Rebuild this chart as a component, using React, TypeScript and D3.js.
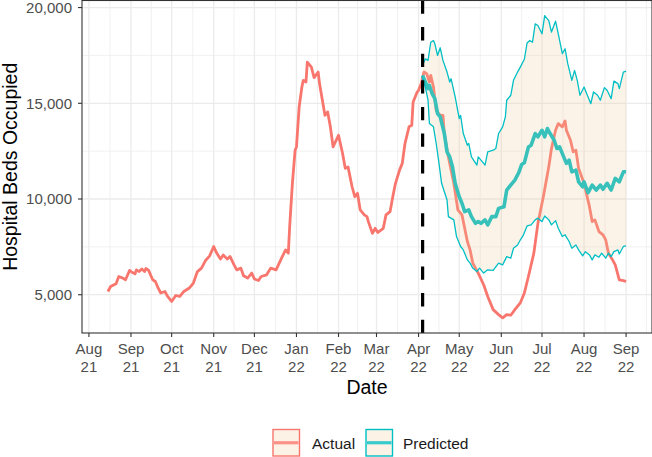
import React from 'react';
import * as d3 from 'd3';

// Observed hospital beds occupied (daily series, sampled)
const actualDates = [
  '2021-08-15', '2021-08-17', '2021-08-21', '2021-08-23', '2021-08-26', '2021-08-28', '2021-08-31',
  '2021-09-02', '2021-09-04', '2021-09-05', '2021-09-07', '2021-09-09', '2021-09-11', '2021-09-12',
  '2021-09-14', '2021-09-17', '2021-09-19', '2021-09-21', '2021-09-23', '2021-09-26', '2021-09-28',
  '2021-10-01', '2021-10-04', '2021-10-07', '2021-10-10', '2021-10-14', '2021-10-17', '2021-10-20',
  '2021-10-23', '2021-10-26', '2021-10-29', '2021-11-01', '2021-11-03', '2021-11-06', '2021-11-08',
  '2021-11-11', '2021-11-13', '2021-11-16', '2021-11-18', '2021-11-21', '2021-11-23', '2021-11-26',
  '2021-11-29', '2021-12-01', '2021-12-04', '2021-12-06', '2021-12-10', '2021-12-13', '2021-12-17',
  '2021-12-21', '2021-12-24', '2021-12-26', '2021-12-27', '2021-12-29', '2021-12-31', '2022-01-01',
  '2022-01-03', '2022-01-05', '2022-01-06', '2022-01-08', '2022-01-09', '2022-01-12', '2022-01-14',
  '2022-01-17', '2022-01-18', '2022-01-22', '2022-01-24', '2022-01-26', '2022-01-28', '2022-02-01',
  '2022-02-04', '2022-02-06', '2022-02-08', '2022-02-11', '2022-02-13', '2022-02-15', '2022-02-17',
  '2022-02-20', '2022-02-22', '2022-02-23', '2022-02-26', '2022-02-28', '2022-03-02', '2022-03-06',
  '2022-03-08', '2022-03-11', '2022-03-13', '2022-03-15', '2022-03-18', '2022-03-20', '2022-03-22',
  '2022-03-25', '2022-03-27', '2022-03-28', '2022-03-31', '2022-04-01', '2022-04-03', '2022-04-05',
  '2022-04-07', '2022-04-09', '2022-04-10', '2022-04-12', '2022-04-14', '2022-04-17', '2022-04-19',
  '2022-04-20', '2022-04-23', '2022-04-25', '2022-04-27', '2022-04-30', '2022-05-03', '2022-05-07',
  '2022-05-09', '2022-05-11', '2022-05-15', '2022-05-19', '2022-05-22', '2022-05-26', '2022-05-30',
  '2022-06-02', '2022-06-05', '2022-06-08', '2022-06-11', '2022-06-15', '2022-06-18', '2022-06-21',
  '2022-06-25', '2022-06-28', '2022-07-02', '2022-07-06', '2022-07-08', '2022-07-11', '2022-07-13',
  '2022-07-16', '2022-07-18', '2022-07-19', '2022-07-22', '2022-07-24', '2022-07-26', '2022-07-28',
  '2022-08-01', '2022-08-05', '2022-08-07', '2022-08-09', '2022-08-12', '2022-08-15', '2022-08-17',
  '2022-08-19', '2022-08-22', '2022-08-24', '2022-08-25', '2022-08-27', '2022-08-30', '2022-09-01',
];
const actualBeds = [
  5170, 5430, 5570, 5950, 5870, 5780, 6270,
  6160, 6090, 6300, 6210, 6340, 6210, 6370,
  6270, 5780, 5690, 5350, 5090, 5170, 4910,
  4650, 4960, 4910, 5170, 5350, 5610, 6210,
  6390, 6790, 7030, 7520, 7200, 6860, 7080,
  6860, 7000, 6560, 6300, 6390, 5990, 5870,
  6130, 5820, 5740, 5950, 6040, 6390, 6300,
  6910, 7340, 7170, 8560, 10820, 12550, 12720,
  14810, 15850, 16200, 16110, 17150, 16890, 16340,
  16630, 16030, 14370, 14550, 13770, 12720, 13330,
  12380, 11600, 11680, 10640, 10120, 10300, 9430,
  9170, 9080, 8820, 8210, 8470, 8250, 8470,
  9170, 9340, 10120, 10820, 11510, 11860, 12900,
  13770, 13850, 15070, 15590, 15680, 16030, 16630,
  16550, 16110, 16460, 15850, 14630, 14370, 14370,
  13420, 12200, 11510, 10820, 9430, 9170, 7780,
  7340, 6650, 6130, 5520, 4910, 4220, 3960,
  3790, 3960, 3930, 4220, 4570, 5090, 5950,
  7170, 8730, 10120, 11680, 12630, 13590, 13940,
  13770, 14080, 13590, 13070, 12460, 12550, 11600,
  10820, 9600, 8820, 8910, 8300, 8130, 7860,
  7170, 6820, 6560, 6300, 5780, 5740, 5690,
];

// Forecast: central estimate
const centreDates = [
  '2022-04-04', '2022-04-06', '2022-04-08', '2022-04-09', '2022-04-11', '2022-04-13', '2022-04-15',
  '2022-04-17', '2022-04-20', '2022-04-22', '2022-04-24', '2022-04-26', '2022-04-28', '2022-05-01',
  '2022-05-03', '2022-05-05', '2022-05-08', '2022-05-10', '2022-05-13', '2022-05-15', '2022-05-17',
  '2022-05-20', '2022-05-22', '2022-05-25', '2022-05-28', '2022-05-30', '2022-06-03', '2022-06-05',
  '2022-06-09', '2022-06-11', '2022-06-14', '2022-06-16', '2022-06-18', '2022-06-21', '2022-06-23',
  '2022-06-26', '2022-06-28', '2022-07-01', '2022-07-03', '2022-07-05', '2022-07-07', '2022-07-10',
  '2022-07-12', '2022-07-14', '2022-07-17', '2022-07-19', '2022-07-21', '2022-07-23', '2022-07-26',
  '2022-07-28', '2022-07-31', '2022-08-01', '2022-08-04', '2022-08-07', '2022-08-10', '2022-08-13',
  '2022-08-15', '2022-08-18', '2022-08-21', '2022-08-24', '2022-08-27', '2022-08-30', '2022-09-01',
];
const centreBeds = [
  16460, 16110, 15770, 15940, 15500, 15240, 14460,
  14290, 13420, 12460, 12200, 11680, 10820, 10120,
  9780, 9340, 9430, 9080, 8730, 8820, 8730,
  8910, 8650, 9080, 9080, 9510, 9600, 10470,
  10820, 10990, 11400, 11800, 11890, 12720, 12810,
  13420, 13250, 13590, 13250, 13680, 13420, 13070,
  12640, 12720, 12200, 11860, 12030, 11420, 11510,
  10900, 10640, 10900, 10330, 10730, 10470, 10730,
  10510, 10820, 10470, 11080, 10900, 11420, 11420,
];

// Forecast: upper bound
const upperDates = [
  '2022-04-04', '2022-04-06', '2022-04-08', '2022-04-10', '2022-04-12', '2022-04-13', '2022-04-15',
  '2022-04-17', '2022-04-19', '2022-04-22', '2022-04-24', '2022-04-25', '2022-04-28', '2022-05-01',
  '2022-05-02', '2022-05-04', '2022-05-07', '2022-05-08', '2022-05-10', '2022-05-14', '2022-05-15',
  '2022-05-19', '2022-05-20', '2022-05-22', '2022-05-26', '2022-05-28', '2022-05-30', '2022-06-02',
  '2022-06-04', '2022-06-05', '2022-06-08', '2022-06-10', '2022-06-13', '2022-06-15', '2022-06-18',
  '2022-06-20', '2022-06-22', '2022-06-24', '2022-06-26', '2022-06-28', '2022-07-01', '2022-07-03',
  '2022-07-06', '2022-07-08', '2022-07-11', '2022-07-13', '2022-07-16', '2022-07-18', '2022-07-20',
  '2022-07-23', '2022-07-25', '2022-07-27', '2022-07-29', '2022-08-01', '2022-08-03', '2022-08-06',
  '2022-08-08', '2022-08-11', '2022-08-13', '2022-08-16', '2022-08-18', '2022-08-21', '2022-08-23',
  '2022-08-26', '2022-08-27', '2022-08-30', '2022-09-01',
];
const upperBeds = [
  17000, 17320, 17240, 18190, 18280, 18110, 17500,
  17900, 17240, 16630, 16110, 16280, 15330, 14200,
  14370, 13420, 12810, 12900, 12200, 11770, 12200,
  11860, 11770, 12460, 12550, 12640, 13420, 13770,
  14290, 15160, 15420, 16200, 16630, 16890, 17300,
  18150, 18280, 18190, 19150, 19060, 18630, 19580,
  19320, 18720, 19290, 18630, 17590, 17850, 17070,
  16200, 16720, 16200, 15420, 15850, 15500, 14980,
  15590, 15420, 15160, 15820, 15680, 15240, 16160,
  16030, 15770, 16630, 16680,
];

// Forecast: lower bound
const lowerDates = [
  '2022-04-04', '2022-04-06', '2022-04-08', '2022-04-09', '2022-04-12', '2022-04-14', '2022-04-16',
  '2022-04-18', '2022-04-22', '2022-04-23', '2022-04-27', '2022-04-29', '2022-05-02', '2022-05-04',
  '2022-05-07', '2022-05-09', '2022-05-11', '2022-05-14', '2022-05-16', '2022-05-19', '2022-05-22',
  '2022-05-26', '2022-05-30', '2022-06-02', '2022-06-05', '2022-06-08', '2022-06-10', '2022-06-13',
  '2022-06-15', '2022-06-17', '2022-06-20', '2022-06-23', '2022-06-26', '2022-06-28', '2022-07-01',
  '2022-07-03', '2022-07-06', '2022-07-08', '2022-07-11', '2022-07-13', '2022-07-16', '2022-07-18',
  '2022-07-21', '2022-07-23', '2022-07-26', '2022-07-28', '2022-07-31', '2022-08-02', '2022-08-05',
  '2022-08-07', '2022-08-09', '2022-08-12', '2022-08-14', '2022-08-17', '2022-08-19', '2022-08-21',
  '2022-08-23', '2022-08-26', '2022-08-27', '2022-08-30', '2022-09-01',
];
const lowerBeds = [
  16300, 15850, 15160, 13940, 13770, 12900, 11900,
  10820, 9950, 9080, 8910, 8040, 7520, 7340,
  6820, 6650, 6390, 6210, 6390, 6130, 6300,
  6270, 6650, 6560, 6990, 6910, 7430, 7600,
  7860, 8070, 8590, 8650, 8910, 9000, 8820,
  9110, 8910, 8650, 8870, 8470, 8040, 8130,
  7780, 7430, 7600, 7340, 7030, 7250, 7080,
  6820, 7080, 6960, 7170, 6910, 7170, 6990,
  7250, 7340, 7130, 7520, 7550,
];

const monthTicks = [
  '2021-08-01', '2021-09-01', '2021-10-01', '2021-11-01', '2021-12-01', '2022-01-01', '2022-02-01',
  '2022-03-01', '2022-04-01', '2022-05-01', '2022-06-01', '2022-07-01', '2022-08-01', '2022-09-01',
];
const yBreaks = [5000, 10000, 15000, 20000];
const yMinorBreaks = [7500, 12500, 17500];
const forecastStart = '2022-04-04';

const seriesNames = ['Actual', 'Predicted'];
const seriesColors = ['#F8766D', '#00BFC4'];

const parseDay = d3.utcParse('%Y-%m-%d');
const toDates = (arr: string[]) => arr.map((s) => parseDay(s) as Date);

const FONT = '"Liberation Sans", Arial, Helvetica, sans-serif';
const W = 652;
const H = 457;
const panel = { left: 82, right: 652, top: 0.5, bottom: 333 };

const App = () => {
  const actual = d3.zip(toDates(actualDates), actualBeds) as [Date, number][];
  const centre = d3.zip(toDates(centreDates), centreBeds) as [Date, number][];
  const upper = d3.zip(toDates(upperDates), upperBeds) as [Date, number][];
  const lower = d3.zip(toDates(lowerDates), lowerBeds) as [Date, number][];

  // ggplot-style 5% expansion of the data range
  const allPts = [...actual, ...centre, ...upper, ...lower];
  const [t0, t1] = d3.extent(allPts, (d) => d[0]) as [Date, Date];
  const tPad = (+t1 - +t0) * 0.05;
  const x = d3.scaleUtc()
    .domain([new Date(+t0 - tPad), new Date(+t1 + tPad)])
    .range([panel.left, panel.right]);

  const [v0, v1] = d3.extent(allPts, (d) => d[1]) as [number, number];
  const vPad = (v1 - v0) * 0.05;
  const y = d3.scaleLinear().domain([v0 - vPad, v1 + vPad]).range([panel.bottom, panel.top]);

  const line = d3.line<[Date, number]>().x((d) => x(d[0])).y((d) => y(d[1]));
  const ribbon = line([...upper, ...lower.slice().reverse()]) + 'Z';

  const majors = toDates(monthTicks);
  const extended = [...majors, d3.utcMonth.offset(majors[majors.length - 1], 1)];
  const xMinors = d3.pairs(extended)
    .map(([a, b]) => new Date((+a + +b) / 2))
    .filter((d) => x(d) > panel.left && x(d) < panel.right);

  const fmtMonth = d3.utcFormat('%b');
  const fmtYear = d3.utcFormat('%y');
  const fmtNum = d3.format(',');
  const vx = x(parseDay(forecastStart) as Date);

  const legendX = [273, 366];
  const legendLabelX = [312, 403];

  return (
    <div style={{ position: 'absolute', left: 0, top: 0 }}>
      <svg width={W} height={H} style={{ display: 'block', background: '#fff' }} fontFamily={FONT}>
        <rect x={0} y={0} width={W} height={H} fill="#fff" />

        {/* grid */}
        {yMinorBreaks.map((v) => (
          <line key={`ym${v}`} x1={panel.left} x2={panel.right} y1={y(v)} y2={y(v)} stroke="#EBEBEB" strokeWidth={0.7} />
        ))}
        {xMinors.map((d) => (
          <line key={`xm${+d}`} x1={x(d)} x2={x(d)} y1={panel.top} y2={panel.bottom} stroke="#EBEBEB" strokeWidth={0.7} />
        ))}
        {yBreaks.map((v) => (
          <line key={`y${v}`} x1={panel.left} x2={panel.right} y1={y(v)} y2={y(v)} stroke="#EBEBEB" strokeWidth={1.3} />
        ))}
        {majors.map((d) => (
          <line key={`x${+d}`} x1={x(d)} x2={x(d)} y1={panel.top} y2={panel.bottom} stroke="#EBEBEB" strokeWidth={1.3} />
        ))}

        {/* series */}
        <path d={line(actual) ?? ''} fill="none" stroke={seriesColors[0]} strokeWidth={2.8} strokeLinejoin="round" />
        <path d={line(centre) ?? ''} fill="none" stroke={seriesColors[1]} strokeWidth={3.6} strokeLinejoin="round" />
        <path d={ribbon} fill="#F0CB9C" fillOpacity={0.23} stroke="none" />
        <path d={line(upper) ?? ''} fill="none" stroke={seriesColors[1]} strokeWidth={1.3} strokeLinejoin="round" />
        <path d={line(lower) ?? ''} fill="none" stroke={seriesColors[1]} strokeWidth={1.3} strokeLinejoin="round" />

        {/* forecast start */}
        <line x1={vx} x2={vx} y1={panel.bottom} y2={panel.top} stroke="#000" strokeWidth={3.2} strokeDasharray="13.3 13.3" />

        {/* panel border */}
        <rect x={panel.left} y={panel.top} width={panel.right - panel.left} height={panel.bottom - panel.top}
          fill="none" stroke="#333333" strokeWidth={1.1} />

        {/* y axis */}
        {yBreaks.map((v) => (
          <g key={`yt${v}`} transform={`translate(0,${y(v)})`}>
            <line x1={panel.left - 4} x2={panel.left} stroke="#333333" strokeWidth={1.1} />
            <text x={panel.left - 10} dy="0.35em" textAnchor="end" fontSize={15} fill="#4D4D4D">{fmtNum(v)}</text>
          </g>
        ))}
        <text transform={`translate(17,${(panel.top + panel.bottom) / 2}) rotate(-90)`} textAnchor="middle"
          fontSize={19.5} fill="#000">Hospital Beds Occupied</text>

        {/* x axis */}
        {majors.map((d) => (
          <g key={`xt${+d}`} transform={`translate(${x(d)},0)`}>
            <line y1={panel.bottom} y2={panel.bottom + 4} stroke="#333333" strokeWidth={1.1} />
            <text y={354} textAnchor="middle" fontSize={15} fill="#4D4D4D">{fmtMonth(d)}</text>
            <text y={371.5} textAnchor="middle" fontSize={15} fill="#4D4D4D">{fmtYear(d)}</text>
          </g>
        ))}
        <text x={(panel.left + panel.right) / 2} y={394} textAnchor="middle" fontSize={19.5} fill="#000">Date</text>

        {/* legend */}
        {seriesNames.map((name, i) => (
          <g key={name}>
            <rect x={legendX[i]} y={429.5} width={26.5} height={26.5} fill="#FCF3E6" stroke={seriesColors[i]} strokeWidth={1.4} />
            <line x1={legendX[i] + 1} x2={legendX[i] + 25.5} y1={442.75} y2={442.75} stroke={seriesColors[i]}
              strokeOpacity={0.78} strokeWidth={3.2} />
            <text x={legendLabelX[i]} y={449} fontSize={15.5} fill="#1A1A1A">{name}</text>
          </g>
        ))}
      </svg>
    </div>
  );
};

export default App;
